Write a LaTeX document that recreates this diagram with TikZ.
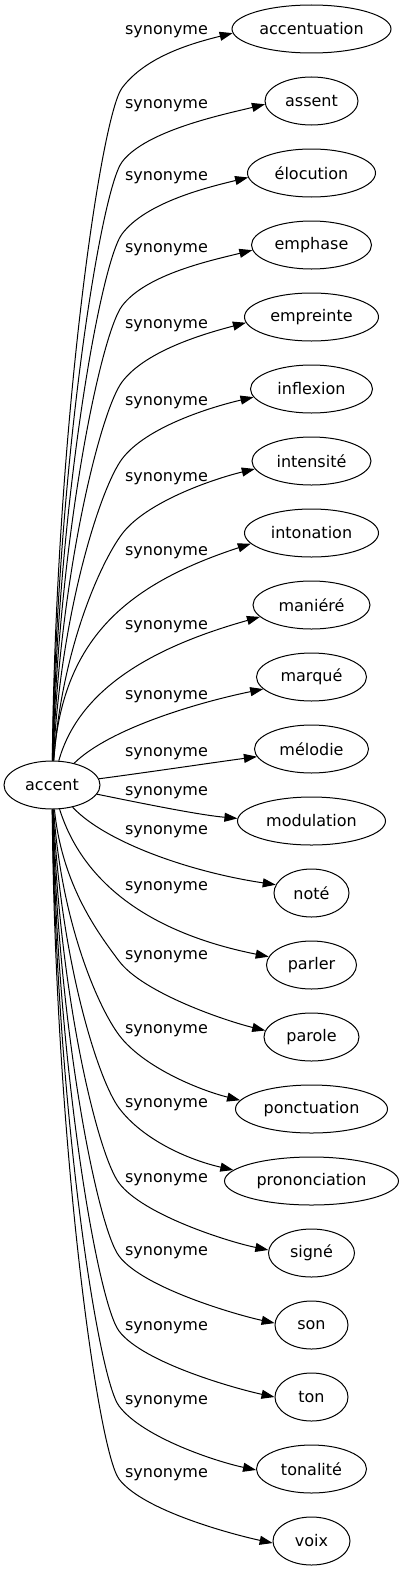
\documentclass[tikz,border=0pt]{standalone}
\usepackage{fontspec}
\setmainfont{DejaVu Sans}
\usetikzlibrary{shapes.geometric,arrows.meta}
\begin{document}
\begin{tikzpicture}[x=1pt, y=-1pt,
        word/.style={draw, ellipse, minimum height=48pt, inner sep=0pt, line width=1pt, font=\fontsize{16}{19}\selectfont},
        rel/.style={inner sep=0pt, font=\fontsize{16}{19}\selectfont},
        syn/.style={line width=1pt, -{Triangle[length=13pt, width=9pt]}}]
        \useasboundingbox (0,0) rectangle (403,1571);

        \node[word, minimum width=96pt] (A) at (52,785) {accent};

        \node[word, minimum width=159pt] (B1) at (311.5,29) {accentuation};
        \node[word, minimum width=93pt] (B2) at (311.5,101) {assent};
        \node[word, minimum width=128pt] (B3) at (311.5,173) {élocution};
        \node[word, minimum width=120pt] (B4) at (311.5,245) {emphase};
        \node[word, minimum width=134pt] (B5) at (311.5,317) {empreinte};
        \node[word, minimum width=122pt] (B6) at (311.5,389) {inflexion};
        \node[word, minimum width=119pt] (B7) at (311.5,461) {intensité};
        \node[word, minimum width=134pt] (B8) at (311.5,533) {intonation};
        \node[word, minimum width=117pt] (B9) at (311.5,605) {maniéré};
        \node[word, minimum width=110pt] (B10) at (311.5,677) {marqué};
        \node[word, minimum width=114pt] (B11) at (311.5,749) {mélodie};
        \node[word, minimum width=148pt] (B12) at (311.5,821) {modulation};
        \node[word, minimum width=75pt] (B13) at (311.5,893) {noté};
        \node[word, minimum width=90pt] (B14) at (311.5,965) {parler};
        \node[word, minimum width=95pt] (B15) at (311.5,1037) {parole};
        \node[word, minimum width=152pt] (B16) at (311.5,1109) {ponctuation};
        \node[word, minimum width=174pt] (B17) at (311.5,1181) {prononciation};
        \node[word, minimum width=86pt] (B18) at (311.5,1253) {signé};
        \node[word, minimum width=73pt] (B19) at (311.5,1325) {son};
        \node[word, minimum width=73pt] (B20) at (311.5,1397) {ton};
        \node[word, minimum width=110pt] (B21) at (311.5,1469) {tonalité};
        \node[word, minimum width=77pt] (B22) at (311.5,1541) {voix};

        \node[rel] (C1) at (166.5,31.7) {synonyme};
        \node[rel] (C2) at (166.5,106) {synonyme};
        \node[rel] (C3) at (166.5,177.7) {synonyme};
        \node[rel] (C4) at (166.5,250) {synonyme};
        \node[rel] (C5) at (166.5,326) {synonyme};
        \node[rel] (C6) at (166.5,402.7) {synonyme};
        \node[rel] (C7) at (166.5,478.3) {synonyme};
        \node[rel] (C8) at (166.5,552.7) {synonyme};
        \node[rel] (C9) at (166.5,626.7) {synonyme};
        \node[rel] (C10) at (166.5,696.7) {synonyme};
        \node[rel] (C11) at (166.5,753.5) {synonyme};
        \node[rel] (C12) at (166.5,792.7) {synonyme};
        \node[rel] (C13) at (166.5,831.5) {synonyme};
        \node[rel] (C14) at (166.5,887.5) {synonyme};
        \node[rel] (C15) at (166.5,957) {synonyme};
        \node[rel] (C16) at (166.5,1030.7) {synonyme};
        \node[rel] (C17) at (166.5,1104.3) {synonyme};
        \node[rel] (C18) at (166.5,1179.3) {synonyme};
        \node[rel] (C19) at (166.5,1253) {synonyme};
        \node[rel] (C20) at (166.5,1327.5) {synonyme};
        \node[rel] (C21) at (166.5,1401.7) {synonyme};
        \node[rel] (C22) at (166.5,1475) {synonyme};

        \draw[syn] (A) .. controls (56,424.5) and (101,116) .. (122,88) .. controls (146,56) and (193,43) .. (B1.183);
        \draw[syn] (A) .. controls (57,461.5) and (101,190) .. (122,162) .. controls (146,130) and (226,114) .. (B2.184);
        \draw[syn] (A) .. controls (58,497.5) and (101,262) .. (122,234) .. controls (146,202) and (209,187) .. (B3.184);
        \draw[syn] (A) .. controls (59,533.5) and (101,334) .. (122,306) .. controls (146,274) and (213,260) .. (B4.185);
        \draw[syn] (A) .. controls (60,571.5) and (101,410) .. (122,382) .. controls (146,350) and (207,333) .. (B5.185);
        \draw[syn] (A) .. controls (61,610) and (101,487) .. (122,459) .. controls (146,427) and (211,407) .. (B6.188);
        \draw[syn] (A) .. controls (62,647.5) and (101,562) .. (122,534) .. controls (146,502) and (213,479) .. (B7.188);
        \draw[syn] (A) .. controls (62,640) and (125,585) .. (B8.190);
        \draw[syn] (A) .. controls (80,685) and (160,645) .. (B9.193);
        \draw[syn] (A) .. controls (110,728) and (200,702) .. (B10.194);
        \draw[syn] (A) .. controls (150,772) and (210,763) .. (B11.188);
        \draw[syn] (A) .. controls (150,805) and (200,815) .. (B12.178);
        \draw[syn] (A) .. controls (105,842) and (190,872) .. (B13.167);
        \draw[syn] (A) .. controls (85,890) and (160,935) .. (B14.169);
        \draw[syn] (A) .. controls (62,885) and (98,933) .. (119,961) .. controls (143,993) and (226,1021) .. (B15.172);
        \draw[syn] (A) .. controls (61,922) and (98,1007) .. (119,1035) .. controls (143,1067) and (199,1090) .. (B16.173);
        \draw[syn] (A) .. controls (60,958.5) and (98,1080) .. (119,1108) .. controls (143,1140) and (189,1160) .. (B17.172);
        \draw[syn] (A) .. controls (59,996) and (98,1155) .. (119,1183) .. controls (143,1215) and (229,1242) .. (B18.176);
        \draw[syn] (A) .. controls (58,1032.5) and (98,1228) .. (119,1256) .. controls (143,1288) and (237,1315) .. (B19.177);
        \draw[syn] (A) .. controls (57,1070) and (98,1303) .. (119,1331) .. controls (143,1363) and (237,1389) .. (B20.180);
        \draw[syn] (A) .. controls (56,1107.5) and (98,1378) .. (119,1406) .. controls (143,1438) and (218,1462) .. (B21.181);
        \draw[syn] (A) .. controls (55,1144) and (98,1451) .. (119,1479) .. controls (143,1511) and (235,1535) .. (B22.183);
\end{tikzpicture}
\end{document}
